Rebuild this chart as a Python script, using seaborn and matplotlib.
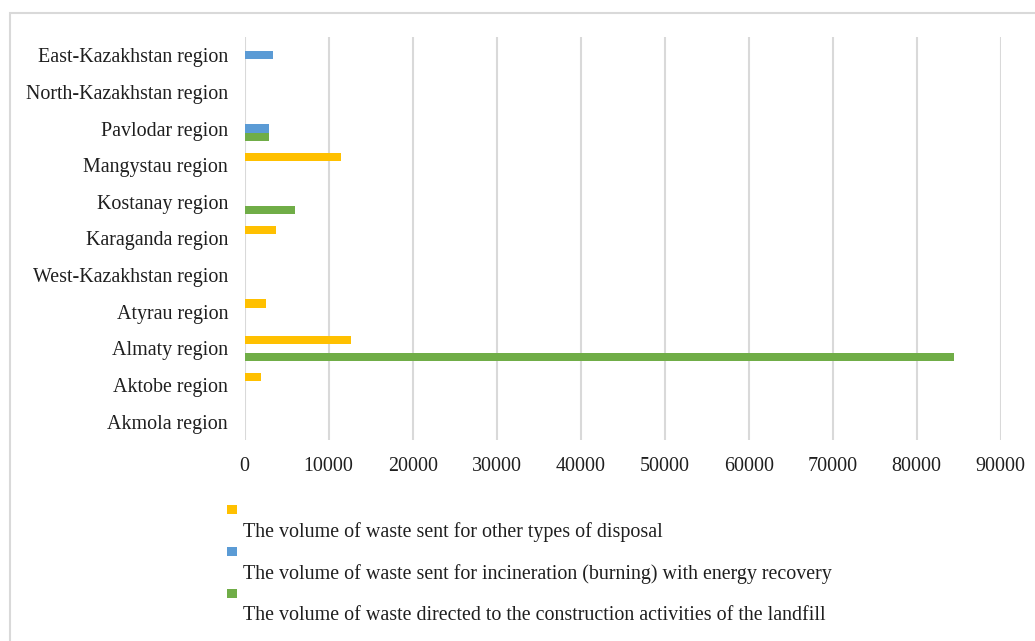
import matplotlib
matplotlib.use("Agg")
import matplotlib.pyplot as plt
from matplotlib.patches import Rectangle
import pandas as pd
import seaborn as sns

# Regions, listed top to bottom
regions = [
    "East-Kazakhstan region", "North-Kazakhstan region", "Pavlodar region",
    "Mangystau region", "Kostanay region", "Karaganda region",
    "West-Kazakhstan region", "Atyrau region", "Almaty region",
    "Aktobe region", "Akmola region",
]

series_names = [
    "The volume of waste sent for other types of disposal",
    "The volume of waste sent for incineration (burning) with energy recovery",
    "The volume of waste directed to the construction activities of the landfill",
]

other_disposal = [0, 0, 0, 11460, 0, 3770, 0, 2500, 12620, 1980, 0]
incineration = [3400, 0, 2890, 0, 0, 0, 0, 0, 0, 0, 0]
landfill_construction = [0, 0, 2890, 0, 6030, 0, 0, 0, 84440, 0, 0]

x_ticks = [0, 10000, 20000, 30000, 40000, 50000, 60000, 70000, 80000, 90000]

colors = ["#FFC000", "#5B9BD5", "#70AD47"]

rows = []
for name, vals in zip(series_names, [other_disposal, incineration, landfill_construction]):
    for reg, v in zip(regions, vals):
        rows.append({"region": reg, "series": name, "value": v})
df = pd.DataFrame(rows)

sns.set_theme(style="white")
plt.rcParams["font.family"] = ["Liberation Serif", "DejaVu Serif"]

W, H = 1035, 641
FS = 14.4
TEXT = "#1F1F1F"
fig = plt.figure(figsize=(W / 100, H / 100), dpi=100)
ax = fig.add_axes([244.7 / W, 1 - 440 / H, (1000.7 - 244.7) / W, (440 - 37) / H])

sns.barplot(
    data=df, y="region", x="value", hue="series", order=regions,
    hue_order=series_names, palette=colors, orient="h", width=0.68,
    errorbar=None, legend=False, ax=ax, saturation=1,
    linewidth=0, edgecolor="none",
)

ax.set_xlim(0, 90000)
ax.set_xticks(x_ticks)
ax.set_xticklabels([str(t) for t in x_ticks])
ax.set_xlabel("")
ax.set_ylabel("")
ax.grid(axis="x", color="#D9D9D9", linewidth=1.5)
ax.grid(axis="y", visible=False)
ax.set_axisbelow(True)
for s in ax.spines.values():
    s.set_visible(False)
ax.tick_params(axis="y", length=0, pad=12, labelsize=FS, labelcolor=TEXT)
ax.tick_params(axis="x", length=0, pad=12, labelsize=FS, labelcolor=TEXT)

# Legend: swatch on its own line, text beneath
legend_y = [509, 551, 593]
for c, name, yc in zip(colors, series_names, legend_y):
    fig.patches.append(Rectangle((227 / W, 1 - (yc + 4.5) / H), 10 / W, 9 / H,
                                 transform=fig.transFigure, facecolor=c,
                                 edgecolor="none"))
    fig.text(243 / W, 1 - (yc + 23) / H, name, fontsize=FS, color=TEXT,
             va="center", ha="left")

# Chart area frame
fig.patches.append(Rectangle((10 / W, -0.2), 1.2, 1.2 - 13 / H,
                             transform=fig.transFigure, facecolor="none",
                             edgecolor="#D9D9D9", linewidth=1.5))

fig.savefig("out.png", dpi=100)
